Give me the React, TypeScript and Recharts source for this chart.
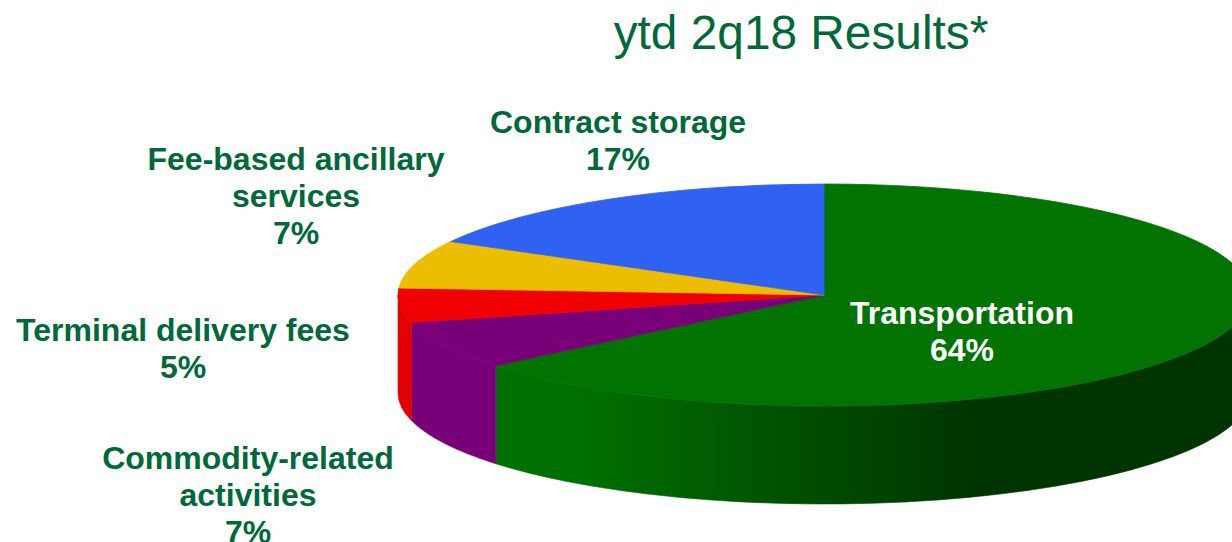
import React from "react";
import { PieChart, Pie, Cell } from "recharts";

const title = "ytd 2q18 Results*";
const categories = ["Transportation", "Commodity-related activities", "Terminal delivery fees", "Fee-based ancillary services", "Contract storage"];
const shares = [64, 7, 5, 7, 17];
const labelLines = [
  ["Transportation", "64%"],
  ["Commodity-related", "activities", "7%"],
  ["Terminal delivery fees", "5%"],
  ["Fee-based ancillary", "services", "7%"],
  ["Contract storage", "17%"],
];
const topColors = ["#007300", "#780078", "#f00000", "#edbe00", "#2f62f2"];
const rimColors = ["url(#greenRim)", "#780078", "#e20000", "#edbe00", "#2f62f2"];
const labelColors = ["#ffffff", "#00693a", "#00693a", "#00693a", "#00693a"];
const labelCentersX = [962, 248, 183, 296, 618];
const labelFirstBaselines = [324, 469, 341, 170, 133];

const CX = 824;
const CY = 295;
const RX = 426;
const SQUASH = 111 / 426;
const DEPTH = 98;
const FONT = "'Liberation Sans', Arial, sans-serif";

const rows = categories.map((name, i) => ({ name, value: shares[i] }));

const Wedge = (props: any) => {
  const { cx, cy, outerRadius: rx, startAngle, endAngle, index } = props;
  const ry = rx * SQUASH;
  const a = 90 - startAngle;
  const b = 90 - endAngle;
  const pt = (deg: number, dy = 0): [number, number] => {
    const r = (deg * Math.PI) / 180;
    return [cx + rx * Math.sin(r), cy - ry * Math.cos(r) + dy];
  };
  const [x1, y1] = pt(a);
  const [x2, y2] = pt(b);
  const large = b - a > 180 ? 1 : 0;
  const top = `M${cx},${cy}L${x1},${y1}A${rx},${ry} 0 ${large} 1 ${x2},${y2}Z`;
  const ra = Math.max(a, 90);
  const rb = Math.min(b, 270);
  let rim: string | null = null;
  if (rb > ra) {
    const [p, q] = pt(ra);
    const [r, s] = pt(rb);
    const l = rb - ra > 180 ? 1 : 0;
    rim = `M${p},${q}A${rx},${ry} 0 ${l} 1 ${r},${s}L${r},${s + DEPTH}A${rx},${ry} 0 ${l} 0 ${p},${q + DEPTH}Z`;
  }
  return (
    <g>
      {index === 0 && (
        <defs>
          <linearGradient id="greenRim" gradientUnits="userSpaceOnUse" x1={580} y1={0} x2={975} y2={0}>
            <stop offset="0" stopColor="#007000" />
            <stop offset="1" stopColor="#003400" />
          </linearGradient>
        </defs>
      )}
      {rim && <path d={rim} fill={rimColors[index]} stroke={rimColors[index]} strokeWidth={0.6} />}
      <path d={top} fill={topColors[index]} stroke={topColors[index]} strokeWidth={0.8} strokeLinejoin="round" />
    </g>
  );
};

const renderLabel = (props: any) => {
  const i = props.index;
  return (
    <text
      textAnchor="middle"
      fontFamily={FONT}
      fontWeight="bold"
      fontSize={32}
      fill={labelColors[i]}
    >
      {labelLines[i].map((line, k) => (
        <tspan key={k} x={labelCentersX[i]} y={labelFirstBaselines[i] + k * 37}>
          {line}
        </tspan>
      ))}
    </text>
  );
};

export default function App() {
  return (
    <div style={{ position: "absolute", left: 0, top: 0, width: 1232, height: 542, overflow: "hidden", background: "#fff" }}>
      <PieChart width={1232} height={542} margin={{ top: 0, right: 0, bottom: 0, left: 0 }}>
        <Pie
          data={rows}
          dataKey="value"
          nameKey="name"
          cx={CX}
          cy={CY}
          innerRadius={0}
          outerRadius={RX}
          startAngle={90}
          endAngle={-270}
          stroke="none"
          isAnimationActive={false}
          shape={Wedge}
          label={renderLabel}
          labelLine={false}
        >
          {rows.map((r, i) => (
            <Cell key={r.name} fill={topColors[i]} />
          ))}
        </Pie>
        <text x={801} y={49} textAnchor="middle" fontFamily={FONT} fontSize={47.8} fill="#00693a">
          {title}
        </text>
      </PieChart>
    </div>
  );
}
